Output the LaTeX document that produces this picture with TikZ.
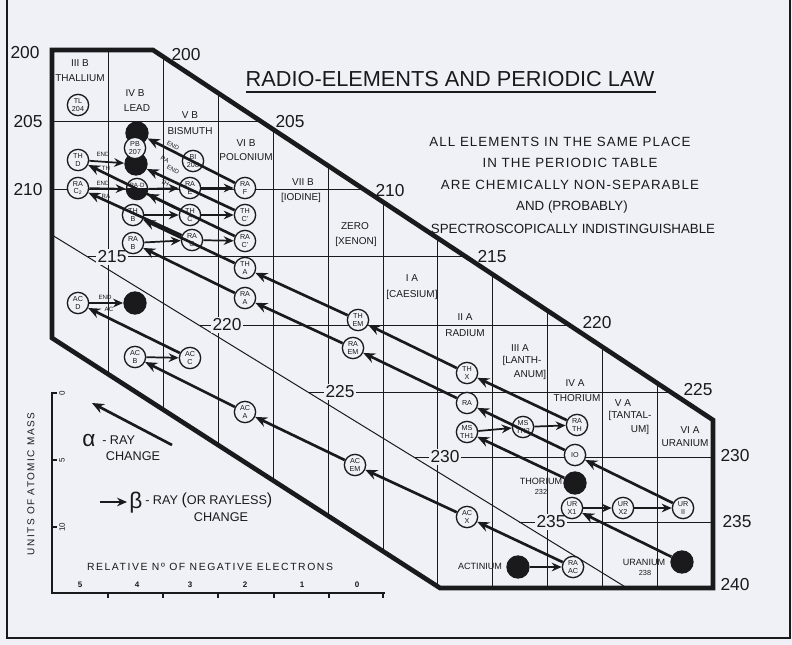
\documentclass[tikz,border=0pt]{standalone}
\usepackage{fontspec}
\setmainfont{Liberation Sans}
\newfontfamily\spaced[LetterSpace=8]{Liberation Sans}
\newfontfamily\wspaced[LetterSpace=15]{Liberation Sans}
\usetikzlibrary{arrows.meta}
\definecolor{paper}{RGB}{240,241,246}
\definecolor{ink}{RGB}{26,26,28}
\tikzset{
  gridln/.style={draw=ink, line width=0.75pt},
  bound/.style={draw=ink, line width=3.5pt, line join=miter},
  el/.style={circle, draw=ink, fill=paper, line width=1pt, minimum size=16pt, inner sep=0pt, align=center, font=\fontsize{5.4}{5.6}\selectfont},
  blk/.style={circle, fill=ink, minimum size=17.5pt, inner sep=0pt},
  hdr/.style={font=\fontsize{7.5}{8}\selectfont, inner sep=0.5pt},
  massnum/.style={font=\fontsize{13}{13}\selectfont, inner sep=0.5pt},
  onlinenum/.style={massnum, fill=paper, inner sep=1.5pt},
  alph/.style={draw=ink, line width=2pt, -{Stealth[length=9pt,width=7.5pt,inset=3pt]}},
  bet/.style={draw=ink, line width=1.3pt, -{Stealth[length=7.5pt,width=6.5pt,inset=2.5pt]}},
  tinyl/.style={font=\fontsize{4.6}{5}\selectfont, inner sep=0.3pt},
  lab/.style={font=\fontsize{6.8}{7}\selectfont, inner sep=0.5pt},
}
\begin{document}
\begin{tikzpicture}[x=0.75pt,y=-0.75pt,color=ink]
\useasboundingbox (0,0) rectangle (792,645);
\fill[paper] (0,0) rectangle (792,645);
\draw[line width=0.8pt] (7,0) -- (7,638) -- (790,638) -- (790,0);

% ---------- grid: column lines ----------
\draw[gridln] (108,50)--(108,374);
\draw[gridln] (163,57)--(163,410);
\draw[gridln] (218,93)--(218,445);
\draw[gridln] (273,129)--(273,480);
\draw[gridln] (328,166)--(328,516);
\draw[gridln] (383,202)--(383,551);
\draw[gridln] (437,238)--(437,587);
\draw[gridln] (492,274)--(492,588);
\draw[gridln] (547,310)--(547,588);
\draw[gridln] (602,347)--(602,588);
\draw[gridln] (657,383)--(657,588);
% ---------- grid: mass lines ----------
\draw[gridln] (52,122)--(262,122);
\draw[gridln] (52,190)--(365,190);
\draw[gridln] (88,257)--(466,257);
\draw[gridln] (199,325)--(569,325);
\draw[gridln] (308,392)--(670,392);
\draw[gridln] (414,457)--(713,457);
\draw[gridln] (519,522)--(713,522);
\draw[gridln] (52,235)--(627,588);

% ---------- thick boundary ----------
\draw[bound] (52,50)--(153,50)--(713,420)--(713,588)--(440,588)--(52,338)--cycle;

% ---------- mass numbers ----------
\node[massnum] (m200l) at (25,53) {200};
\node[massnum] (m205l) at (28,122) {205};
\node[massnum] (m210l) at (28,190) {210};
\node[massnum] (m200r) at (186,55) {200};
\node[massnum] (m205r) at (290,122) {205};
\node[massnum] (m210r) at (390,191) {210};
\node[massnum] (m215r) at (492,257) {215};
\node[massnum] (m220r) at (597,323) {220};
\node[massnum] (m225r) at (698,390) {225};
\node[massnum] (m230r) at (735,456) {230};
\node[massnum] (m235r) at (737,522) {235};
\node[massnum] (m240r) at (735,585) {240};
\node[onlinenum] (m215) at (112,257) {215};
\node[onlinenum] (m220) at (227,325) {220};
\node[onlinenum] (m225) at (340,392) {225};
\node[onlinenum] (m230) at (445,457) {230};
\node[onlinenum] (m235) at (551,522) {235};

% ---------- column headers ----------
\node[hdr] (h1a) at (80,63) {III B};
\node[hdr] (h1b) at (80,78) {THALLIUM};
\node[hdr] (h2a) at (135,93) {IV B};
\node[hdr] (h2b) at (137,108) {LEAD};
\node[hdr] (h3a) at (190,115) {V B};
\node[hdr] (h3b) at (190,131) {BISMUTH};
\node[hdr] (h4a) at (246,143) {VI B};
\node[hdr] (h4b) at (246,157) {POLONIUM};
\node[hdr] (h5a) at (303,182) {VII B};
\node[hdr] (h5b) at (301,198) {[IODINE]};
\node[hdr] (h6a) at (355,226) {ZERO};
\node[hdr] (h6b) at (356,242) {[XENON]};
\node[hdr] (h7a) at (412,278) {I A};
\node[hdr] (h7b) at (412,295) {[CAESIUM]};
\node[hdr] (h8a) at (465,317) {II A};
\node[hdr] (h8b) at (465,333) {RADIUM};
\node[hdr] (h9a) at (520,348) {III A};
\node[hdr] (h9b) at (522,361) {[LANTH-};
\node[hdr] (h9c) at (530,375) {ANUM]};
\node[hdr] (h10a) at (575,383) {IV A};
\node[hdr] (h10b) at (577,398) {THORIUM};
\node[hdr] (h11a) at (623,403) {V A};
\node[hdr] (h11b) at (630,416) {[TANTAL-};
\node[hdr] (h11c) at (640,430) {UM]};
\node[hdr] (h12a) at (690,430) {VI A};
\node[hdr] (h12b) at (685,443) {URANIUM};

% ---------- title and statement ----------
\node[font=\fontsize{16.3}{17}\selectfont, inner sep=0pt] (title) at (450,79) {RADIO-ELEMENTS AND PERIODIC LAW};
\draw[line width=1.8pt] (246,92) -- (656,92);
\node[font=\spaced\fontsize{10}{11}\selectfont, inner sep=0pt] (s1) at (560,142) {ALL ELEMENTS IN THE SAME PLACE};
\node[font=\spaced\fontsize{10}{11}\selectfont, inner sep=0pt] (s2) at (570,163) {IN THE PERIODIC TABLE};
\node[font=\spaced\fontsize{10}{11}\selectfont, inner sep=0pt] (s3) at (570,185) {ARE CHEMICALLY NON-SEPARABLE};
\node[font=\fontsize{10}{11}\selectfont, inner sep=0pt] (s4) at (572,207) {AND (PROBABLY)};
\node[font=\fontsize{10}{11}\selectfont, inner sep=0pt] (s5) at (573,229) {SPECTROSCOPICALLY INDISTINGUISHABLE};

% ---------- element nodes ----------
% lead column (black end products first)
\node[blk] (pbA) at (137,133) {};
\node[blk] (pbC) at (136,164) {};
\node[el] (pb) at (135,148) {PB\\207};
\node[el] (rad) at (137,189) {};
\begin{scope}
\clip ([xshift=-10pt]rad.center) rectangle ([xshift=10pt,yshift=-10pt]rad.center);
\fill[ink] (rad.center) circle[radius=8pt];
\end{scope}
\node[tinyl] (radlab) at ([yshift=3pt]rad.center) {RA·D};
\node[el] (thb) at (133,215) {TH\\B};
\node[el] (rab) at (133,243) {RA\\B};
\node[blk] (acend) at (135,303) {};
\node[el] (acb) at (135,357) {AC\\B};
% thallium column
\node[el] (tl) at (78,105) {TL\\204};
\node[el] (thd) at (78,160) {TH\\D};
\node[el] (rac2) at (78,188) {RA\\C\textsubscript{2}};
\node[el] (acd) at (78,303) {AC\\D};
% bismuth column
\node[el] (bi) at (193,161) {BI\\208};
\node[el] (rae) at (190,188) {RA\\E};
\node[el] (thc) at (190,215) {TH\\C};
\node[el] (rac) at (192,240) {RA\\C};
\node[el] (acc) at (190,358) {AC\\C};
% polonium column
\node[el] (raf) at (245,188) {RA\\F};
\node[el] (thc1) at (245,215) {TH\\C'};
\node[el] (rac1) at (245,241) {RA\\C'};
\node[el] (tha) at (245,268) {TH\\A};
\node[el] (raa) at (245,298) {RA\\A};
\node[el] (aca) at (245,412) {AC\\A};
% zero column
\node[el] (them) at (358,320) {TH\\EM};
\node[el] (raem) at (353,348) {RA\\EM};
\node[el] (acem) at (355,465) {AC\\EM};
% radium column
\node[el] (thx) at (467,373) {TH\\X};
\node[el] (ra) at (467,403) {RA};
\node[el] (msth1) at (467,432) {MS\\TH1};
\node[el] (acx) at (467,517) {AC\\X};
% lanthanum column
\node[el] (msth2) at (523,427) {MS\\TH2};
\node[blk] (actinium) at (518,567) {};
% thorium column
\node[el] (rath) at (577,425) {RA\\TH};
\node[el] (io) at (575,455) {IO};
\node[blk] (thorium) at (575,483) {};
\node[el] (ux1) at (572,508) {UR\\X1};
\node[el] (raac) at (573,567) {RA\\AC};
% tantalum / uranium columns
\node[el] (ux2) at (623,508) {UR\\X2};
\node[el] (u2) at (683,508) {UR\\II};
\node[blk] (uranium) at (682,562) {};

% labels of parent elements
\node[lab] (lthor) at (541,481) {THORIUM};
\node[tinyl, font=\fontsize{5.5}{6}\selectfont] (lthor2) at (541,492) {232};
\node[lab] (lact) at (480,566) {ACTINIUM};
\node[lab] (lura) at (644,562) {URANIUM};
\node[tinyl, font=\fontsize{5.5}{6}\selectfont] (lura2) at (645,573) {238};

% ---------- alpha-ray changes ----------
\draw[alph] (thorium) -- (msth1);
\draw[alph] (rath) -- (thx);
\draw[alph] (thx) -- (them);
\draw[alph] (them) -- (tha);
\draw[alph] (tha) -- (thb);
\draw[alph] (thc) -- (thd);
\draw[alph] (thc1) -- (pbC);
\draw[alph] (uranium) -- (ux1);
\draw[alph] (u2) -- (io);
\draw[alph] (io) -- (ra);
\draw[alph] (ra) -- (raem);
\draw[alph] (raem) -- (raa);
\draw[alph] (raa) -- (rab);
\draw[alph] (rac) -- (rac2);
\draw[alph] (rac1) -- (rad);
\draw[alph] (raf) -- (pbA);
\draw[alph] (raac) -- (acx);
\draw[alph] (acx) -- (acem);
\draw[alph] (acem) -- (aca);
\draw[alph] (aca) -- (acb);
\draw[alph] (acc) -- (acd);

% ---------- beta-ray changes ----------
\draw[bet] (msth1) -- (msth2);
\draw[bet] (msth2) -- (rath);
\draw[bet] (ux1) -- (ux2);
\draw[bet] (ux2) -- (u2);
\draw[bet] (actinium) -- (raac);
\draw[bet] (thb) -- (thc);
\draw[bet] (thc) -- (thc1);
\draw[bet] (rab) -- (rac);
\draw[bet] (rac) -- (rac1);
\draw[bet] (rad) -- (rae);
\draw[bet] (rae) -- (raf);
\draw[bet] (thd) -- (pbC);
\draw[bet] (rac2) -- (rad);
\draw[bet] (acd) -- (acend);
\draw[bet] (acb) -- (acc);

% END labels
\node[tinyl] (e1) at (103,154) {END};
\node[tinyl] (e1b) at (106,168) {TH};
\node[tinyl] (e2) at (103,183) {END};
\node[tinyl] (e2b) at (106,196) {RA};
\node[tinyl] (e3) at (105,297) {END};
\node[tinyl] (e3b) at (109,309) {AC};
\node[tinyl, rotate=-27] (e4) at (173,146) {END};
\node[tinyl, rotate=-27] (e4b) at (165,160) {RA};
\node[tinyl, rotate=-27] (e5) at (173,170) {END};
\node[tinyl, rotate=-27] (e5b) at (165,183) {TH};

% ---------- legend ----------
\coordinate (ax0) at (52,392);
\coordinate (ax1) at (52,593);
\coordinate (ax2) at (385,593);
\draw[line width=1.4pt] (ax0) -- (ax1) -- (ax2);
\foreach \yy/\tt in {393/0,460/5,527/10} {
  \draw[line width=1pt] (52,\yy) -- (57,\yy);
  \node[font=\fontsize{6}{6}\selectfont, rotate=90, inner sep=0pt] at (62,\yy) {\tt};
}
\foreach \xx in {108,163,218,274,329,383} {
  \draw[line width=1pt] (\xx,593) -- (\xx,598);
}
\foreach \xx/\tt in {80/5,137/4,190/3,245/2,302/1,357/0} {
  \node[font=\bfseries\fontsize{6}{6}\selectfont, inner sep=0pt] at (\xx,585) {\tt};
}
\node[font=\wspaced\fontsize{7.8}{8}\selectfont, inner sep=0pt] (relno) at (210,567) {RELATIVE Nº OF NEGATIVE ELECTRONS};
\node[font=\wspaced\fontsize{7.5}{8}\selectfont, rotate=90, inner sep=0pt] (units) at (31,484) {UNITS OF ATOMIC MASS};

\coordinate (la1) at (172,445);
\coordinate (la2) at (92,403);
\draw[alph] (la1) -- (la2);
\node[font=\fontsize{17}{17}\selectfont, inner sep=0pt] (alph) at (89,441) {α};
\node[font=\fontsize{9.5}{10}\selectfont, anchor=west, inner sep=0pt] (arayt) at (102,440) {- RAY};
\node[font=\fontsize{9.5}{10}\selectfont, inner sep=0pt] (achg) at (133,456) {CHANGE};

\coordinate (lb1) at (100,502);
\coordinate (lb2) at (127,502);
\draw[bet] (lb1) -- (lb2);
\node[font=\fontsize{17}{17}\selectfont, inner sep=0pt] (bet) at (136,503) {β};
\node[font=\fontsize{9.5}{10}\selectfont, anchor=west, inner sep=0pt] (brayt) at (145,500) {- RAY {\fontsize{12}{12}\selectfont(}OR RAYLESS{\fontsize{12}{12}\selectfont)}};
\node[font=\fontsize{9.5}{10}\selectfont, inner sep=0pt] (bchg) at (221,517) {CHANGE};
\end{tikzpicture}
\end{document}
